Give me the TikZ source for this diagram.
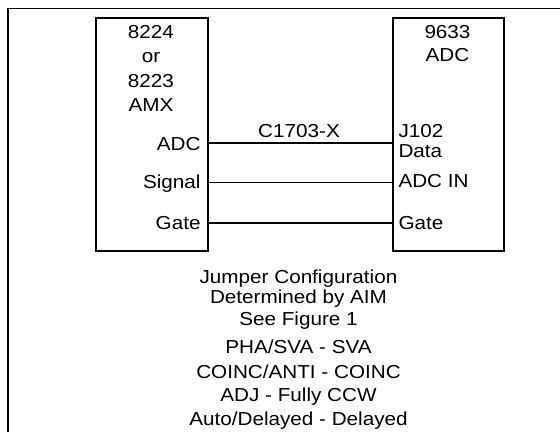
\documentclass[tikz,border=0pt]{standalone}
\usepackage{fontspec}
\setmainfont{Liberation Sans}[FakeStretch=1.1]
\begin{document}
\begin{tikzpicture}[x=1pt,y=-1pt,
  txt/.style={font=\fontsize{18.8}{22}\selectfont, inner sep=0pt, outer sep=0pt},
  box/.style={draw, line width=2.2pt, inner sep=0pt, anchor=north west},
  wire/.style={line width=2pt}]
\useasboundingbox (0,0) rectangle (560,432);
\draw[line width=1.4pt] (8,432) -- (8,8.3) -- (560,8.3);
\node[box, minimum width=112pt, minimum height=233pt] (amx) at (95,17) {};
\node[box, minimum width=111pt, minimum height=233pt] (adc) at (392,17) {};
% left box title
\node[txt, anchor=base] (t1) at (151,38.3) {8224};
\node[txt, anchor=base] (t2) at (151,62.8) {or};
\node[txt, anchor=base] (t3) at (151,87.2) {8223};
\node[txt, anchor=base] (t4) at (151,111.7) {AMX};
% right box title
\node[txt, anchor=base] (r1) at (447.5,38.3) {9633};
\node[txt, anchor=base] (r2) at (447.5,61.7) {ADC};
% left ports
\node[txt, anchor=base east] (pADC) at (200.5,150) {ADC};
\node[txt, anchor=base east] (pSig) at (200.5,188.5) {Signal};
\node[txt, anchor=base east] (pGate) at (200.5,229.5) {Gate};
% right ports
\node[txt, anchor=base west] (qJ) at (398.5,137.3) {J102};
\node[txt, anchor=base west] (qData) at (398.5,157.3) {Data};
\node[txt, anchor=base west] (qIn) at (398.5,187.7) {ADC IN};
\node[txt, anchor=base west] (qGate) at (398.5,229.5) {Gate};
% wire anchors
\coordinate (y1) at (0,142.5);
\coordinate (y2) at (0,182.3);
\coordinate (y3) at (0,223.3);
\draw[wire] (amx.east |- y1) -- (adc.west |- y1);
\node[txt, anchor=base] (cable) at (299,137.3) {C1703-X};
\draw[line width=1.6pt] (amx.east |- y2) -- (adc.west |- y2);
\draw[line width=2.3pt] (amx.east |- y3) -- (adc.west |- y3);
% notes
\node[txt, anchor=base] (n1) at (298.5,283.3) {Jumper Configuration};
\node[txt, anchor=base] (n2) at (298.5,303.5) {Determined by AIM};
\node[txt, anchor=base] (n3) at (298.5,325) {See Figure 1};
\node[txt, anchor=base] (n4) at (298.5,353.3) {PHA/SVA - SVA};
\node[txt, anchor=base] (n5) at (298.5,378.3) {COINC/ANTI - COINC};
\node[txt, anchor=base] (n6) at (298.5,401.7) {ADJ - Fully CCW};
\node[txt, anchor=base] (n7) at (298.5,425) {Auto/Delayed - Delayed};
\end{tikzpicture}
\end{document}
